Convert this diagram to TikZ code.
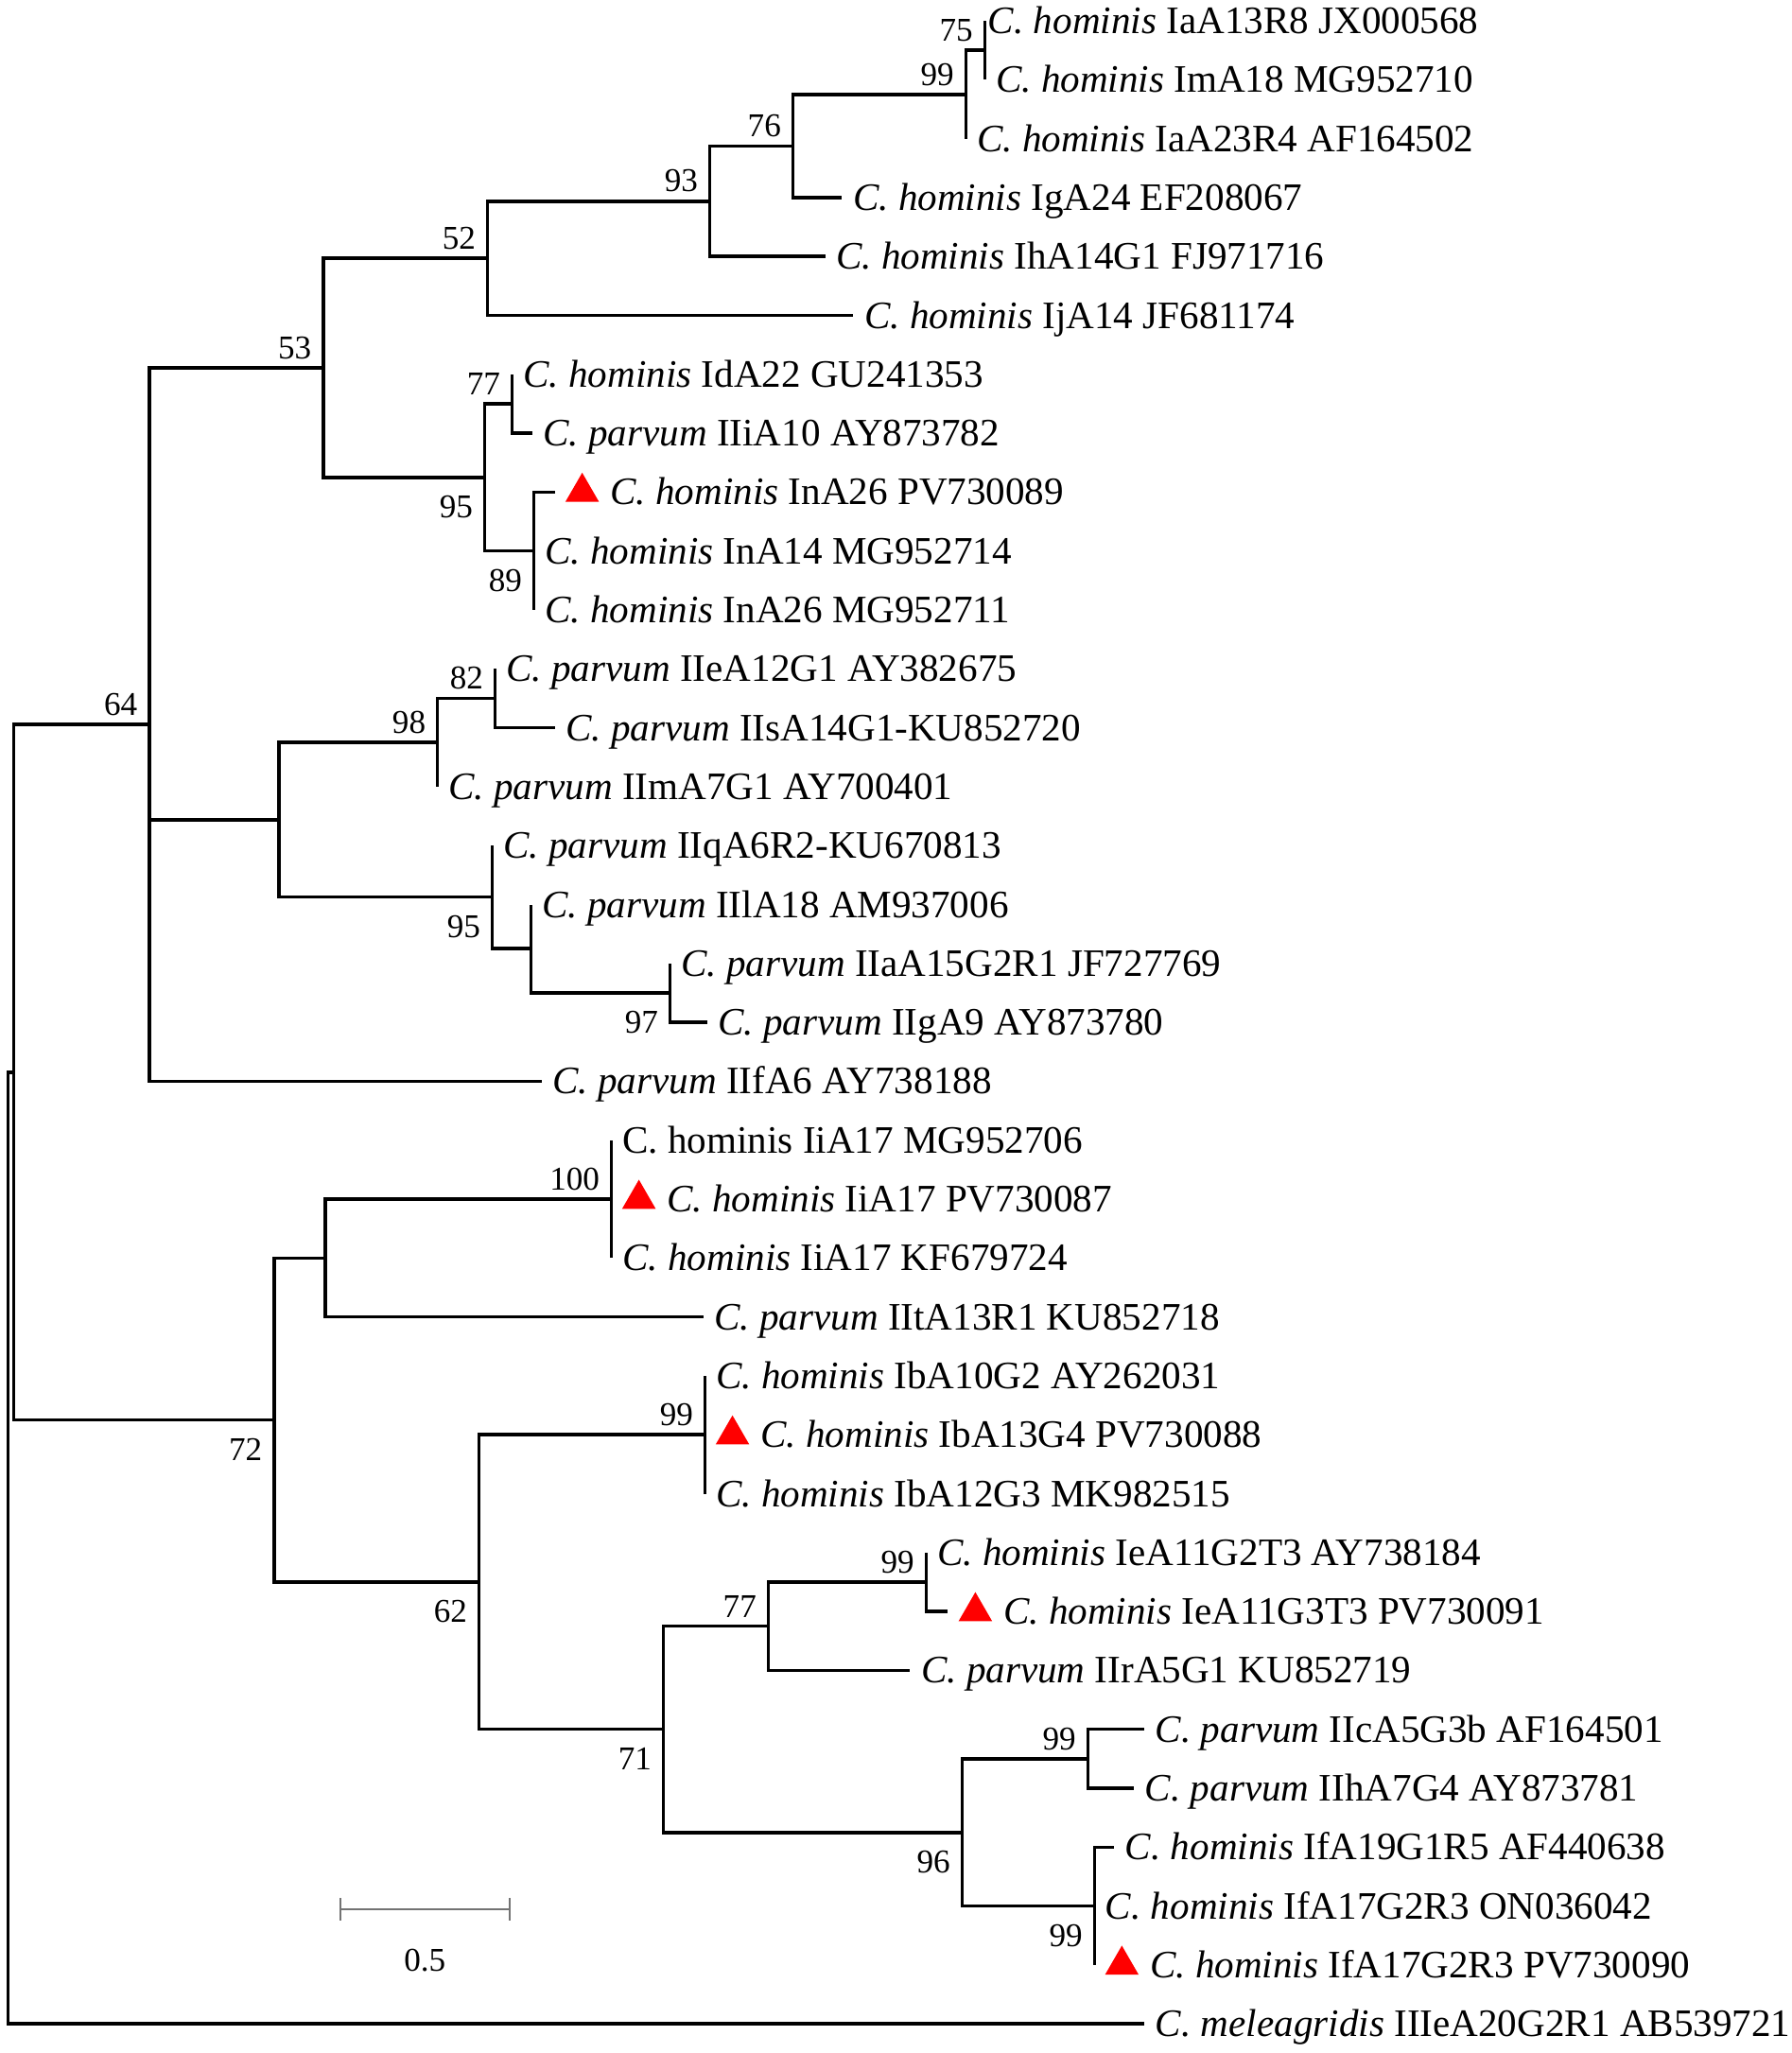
\documentclass[tikz,border=0pt]{standalone}
\usepackage{fontspec}
\setmainfont{Liberation Serif}
\usetikzlibrary{shapes.geometric}
\tikzset{branch/.style={line width=1pt},
    leaf/.style={anchor=base west,inner sep=0pt,xshift=3.1pt,yshift=-3.85pt,
        font=\fontsize{11.7}{13}\selectfont},
    pvleaf/.style={leaf,xshift=13.4pt},
    pvtri/.style={regular polygon,regular polygon sides=3,fill=red,
        inner sep=0pt,minimum size=0.41cm,xshift=8.25pt},
    bsup/.style={anchor=south east,inner sep=0pt,xshift=-3.4pt,yshift=2.5pt,
        font=\fontsize{10}{12}\selectfont},
    bsdown/.style={anchor=north east,inner sep=0pt,xshift=-3.4pt,yshift=-5.4pt,
        font=\fontsize{10}{12}\selectfont},
    scalebar/.style={draw=black!55,line width=0.55pt}}

\begin{document}
\begin{tikzpicture}[x=0.01cm,y=-0.623cm]
\useasboundingbox (0,-0.3531) rectangle (1896,34.4944);

% tips
\foreach \i/\x in {0/1042,1/1042,2/1022,3/891,4/873,5/903,6/542,7/563,8/587,
    9/565,10/565,11/524,12/587,13/463,14/521,15/562,16/709,17/748,18/573,
    19/647,20/647,21/647,22/744,23/746,24/746,25/746,26/980,27/1003,28/963,
    29/1211,30/1200,31/1179,32/1158,33/1158,34/1211}
  \coordinate (t\i) at (\x,\i);

% inner nodes
\coordinate (n75) at (1042,0.5);
\coordinate (n99a) at (1022,1.25);
\coordinate (n76) at (839,2.125);
\coordinate (n93) at (751,3.0625);
\coordinate (n52) at (516,4.031);
\coordinate (n77a) at (542,6.5);
\coordinate (n89) at (565,9);
\coordinate (n95a) at (513,7.75);
\coordinate (n53) at (342,5.891);
\coordinate (n82) at (524,11.5);
\coordinate (n98) at (463,12.25);
\coordinate (n97) at (709,16.5);
\coordinate (nq) at (562,15.75);
\coordinate (n95b) at (521,14.875);
\coordinate (ng) at (295,13.5625);
\coordinate (n64) at (158,11.945);
\coordinate (n100) at (647,20);
\coordinate (nt) at (344,21);
\coordinate (n99b) at (746,24);
\coordinate (n99c) at (980,26.5);
\coordinate (n77b) at (813,27.25);
\coordinate (n99d) at (1151,29.5);
\coordinate (n99e) at (1158,32);
\coordinate (n96) at (1018,30.75);
\coordinate (n71) at (702,29);
\coordinate (n62) at (507,26.5);
\coordinate (n72) at (290,23.75);
\coordinate (nin) at (14.5,17.85);
\coordinate (nroot) at (8.5,25.92);

\foreach \p/\c in {nroot/nin,nroot/t34,nin/n64,nin/n72,
    n64/n53,n64/ng,n64/t18,n53/n52,n53/n95a,n52/n93,n52/t5,
    n93/n76,n93/t4,n76/n99a,n76/t3,n99a/n75,n99a/t2,n75/t0,n75/t1,
    n95a/n77a,n95a/n89,n77a/t6,n77a/t7,n89/t8,n89/t9,n89/t10,
    ng/n98,ng/n95b,n98/n82,n98/t13,n82/t11,n82/t12,
    n95b/t14,n95b/nq,nq/t15,nq/n97,n97/t16,n97/t17,
    n72/nt,n72/n62,nt/n100,nt/t22,n100/t19,n100/t20,n100/t21,
    n62/n99b,n62/n71,n99b/t23,n99b/t24,n99b/t25,
    n71/n77b,n71/n96,n77b/n99c,n77b/t28,n99c/t26,n99c/t27,
    n96/n99d,n96/n99e,n99d/t29,n99d/t30,n99e/t31,n99e/t32,n99e/t33}
  \draw[branch] (\p) |- (\c);

% labels
\foreach \i/\sp/\rest in {1/hominis/ImA18 MG952710,2/hominis/IaA23R4 AF164502,
    3/hominis/IgA24 EF208067,4/hominis/IhA14G1 FJ971716,
    5/hominis/IjA14 JF681174,6/hominis/IdA22 GU241353,
    7/parvum/IIiA10 AY873782,9/hominis/InA14 MG952714,
    10/hominis/InA26 MG952711,11/parvum/IIeA12G1 AY382675,
    12/parvum/IIsA14G1-KU852720,13/parvum/IImA7G1 AY700401,
    14/parvum/IIqA6R2-KU670813,15/parvum/IIlA18 AM937006,
    16/parvum/IIaA15G2R1 JF727769,17/parvum/IIgA9 AY873780,
    18/parvum/IIfA6 AY738188,21/hominis/IiA17 KF679724,
    22/parvum/IItA13R1 KU852718,23/hominis/IbA10G2 AY262031,
    25/hominis/IbA12G3 MK982515,26/hominis/IeA11G2T3 AY738184,
    28/parvum/IIrA5G1 KU852719,29/parvum/IIcA5G3b AF164501,
    30/parvum/IIhA7G4 AY873781,31/hominis/IfA19G1R5 AF440638,
    32/hominis/IfA17G2R3 ON036042,34/meleagridis/IIIeA20G2R1 AB539721}
  \node[leaf] (l\i) at (t\i) {\textit{C. \sp} \rest};
\node[leaf,xshift=-2.3pt] (l0) at (t0) {\textit{C. hominis} IaA13R8 JX000568};
\node[leaf] (l19) at (t19) {C. hominis IiA17 MG952706};

\foreach \i/\rest in {8/InA26 PV730089,20/IiA17 PV730087,24/IbA13G4 PV730088,
    27/IeA11G3T3 PV730091,33/IfA17G2R3 PV730090}{
  \node[pvtri] (m\i) at (t\i) {};
  \node[pvleaf] (l\i) at (t\i) {\textit{C. hominis} \rest};
}

% bootstrap
\foreach \n/\v in {n75/75,n99a/99,n76/76,n93/93,n52/52,n53/53,n77a/77,n64/64,
    n98/98,n82/82,n100/100,n99b/99,n77b/77,n99c/99,n99d/99}
  \node[bsup] (b\n) at (\n) {\v};
\foreach \n/\v in {n95a/95,n89/89,n95b/95,n97/97,n72/72,n62/62,n71/71,
    n96/96,n99e/99}
  \node[bsdown] (b\n) at (\n) {\v};

% scale
\coordinate (sb1) at (360,32.054);
\coordinate (sb2) at (539,32.054);
\draw[scalebar] (sb1) -- (sb2);
\draw[scalebar] ([yshift=3.3pt]sb1) -- ([yshift=-3.3pt]sb1);
\draw[scalebar] ([yshift=3.3pt]sb2) -- ([yshift=-3.3pt]sb2);
\node[font=\fontsize{10}{12}\selectfont,inner sep=0pt] (sblab) at (449.5,32.92) {0.5};
\end{tikzpicture}
\end{document}
